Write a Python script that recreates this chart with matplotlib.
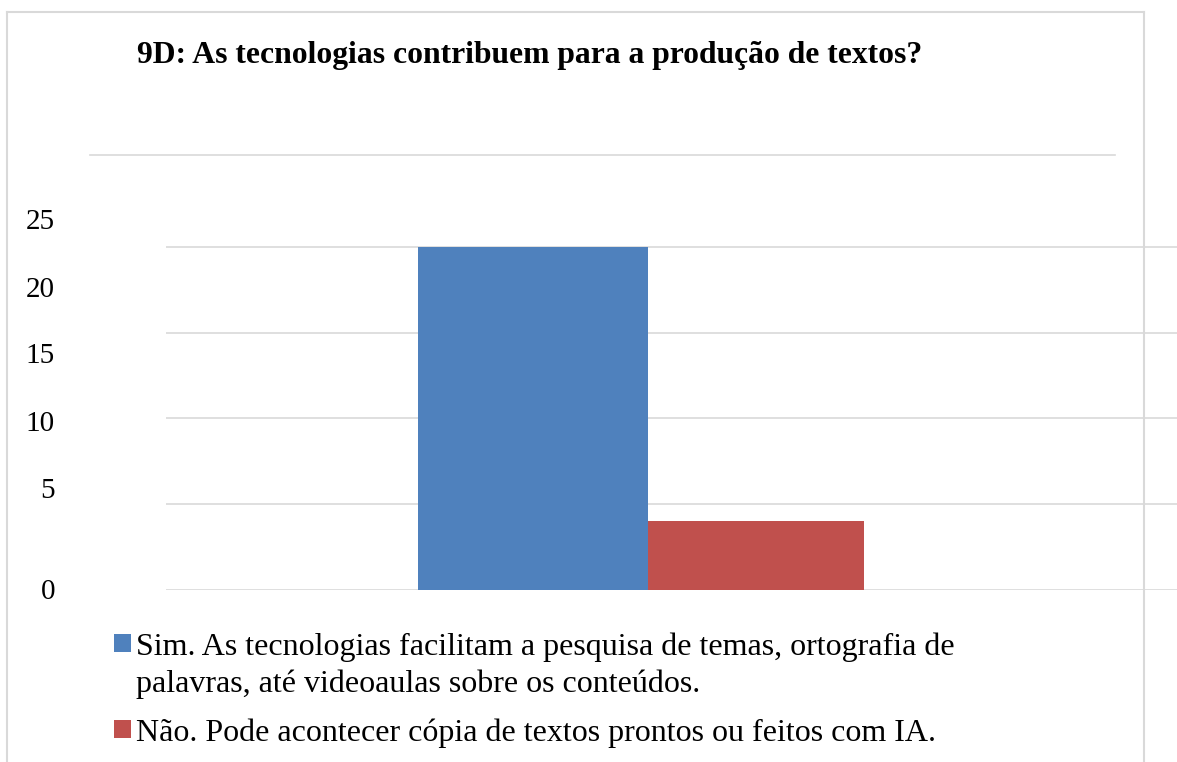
#!/usr/bin/env python3

import matplotlib.pyplot as plt
from matplotlib.lines import Line2D
from matplotlib.patches import Patch

# ============================================================
# DATA
# ============================================================

title = "9D: As tecnologias contribuem para a produção de textos?"
series_labels = [
    "Sim. As tecnologias facilitam a pesquisa de temas, ortografia de",
    "Não. Pode acontecer cópia de textos prontos ou feitos com IA.",
]
label_continuation = "palavras, até videoaulas sobre os conteúdos."
series_values = [20, 4]
series_colors = ["#4F81BD", "#C0504D"]
tick_values = [0, 5, 10, 15, 20]
tick_labels = ["0", "5", "10", "15", "20", "25"]

# ============================================================
# PLOT SETUP
# ============================================================

plt.rcParams["font.family"] = ["Liberation Serif", "DejaVu Serif"]

W, H = 1177, 762
fig = plt.figure(figsize=(W / 100, H / 100), dpi=100)


def fx(px):
    return px / W


def fy(py):
    return 1 - py / H


# plot area: value 0 at y=590 px, 25 at y=161 px
ax = fig.add_axes([fx(166), fy(590), fx(1177) - fx(166), fy(161) - fy(590)])
ax.set_ylim(0, 25)
ax.set_xlim(-(648 - 166) / 1011, (1177 - 648) / 1011)

bar_sim = ax.bar(0, series_values[0], width=-0.2275, align="edge",
                 color=series_colors[0], zorder=3)
bar_nao = ax.bar(0, series_values[1], width=0.2136, align="edge",
                 color=series_colors[1], zorder=3)

ax.set_yticks(tick_values)
ax.set_yticklabels([])
ax.set_xticks([])
ax.tick_params(length=0)
ax.grid(axis="y", color="#d9d9d9", linewidth=1.2, zorder=0)
for s in ax.spines.values():
    s.set_visible(False)

# tick labels (offset as in the original rendering)
label_y = [592, 491, 424, 356, 290, 222]
for txt, py in zip(tick_labels, label_y):
    fig.text(fx(55), fy(py), txt, ha="right", va="center", fontsize=21)

# ============================================================
# FRAME AND TITLE
# ============================================================

grey = "#d9d9d9"
fig.add_artist(Line2D([fx(7), fx(7)], [fy(12), fy(762)], color=grey, lw=1.5))
fig.add_artist(Line2D([fx(7), fx(1144)], [fy(12), fy(12)], color=grey, lw=1.5))
fig.add_artist(Line2D([fx(1144), fx(1144)], [fy(12), fy(762)], color=grey, lw=1.5))
fig.add_artist(Line2D([fx(90), fx(1115)], [fy(155), fy(155)], color=grey, lw=1.2))

fig.text(fx(137), fy(56), title, ha="left", va="center",
         fontsize=22.8, fontweight="bold")

# ============================================================
# LEGEND
# ============================================================

legend_kw = dict(
    loc="upper left",
    frameon=False,
    fontsize=23,
    handlelength=0.53,
    handleheight=0.47,
    handletextpad=0.15,
    labelspacing=0.25,
    borderaxespad=0,
    borderpad=0,
)

blank = Patch(facecolor="none", edgecolor="none")
fig.legend(
    handles=[bar_sim, blank],
    labels=[series_labels[0], label_continuation],
    bbox_to_anchor=(fx(114), fy(632)),
    **legend_kw,
)
fig.legend(
    handles=[bar_nao],
    labels=[series_labels[1]],
    bbox_to_anchor=(fx(114), fy(718)),
    **legend_kw,
)

fig.savefig("out.png", dpi=100)
